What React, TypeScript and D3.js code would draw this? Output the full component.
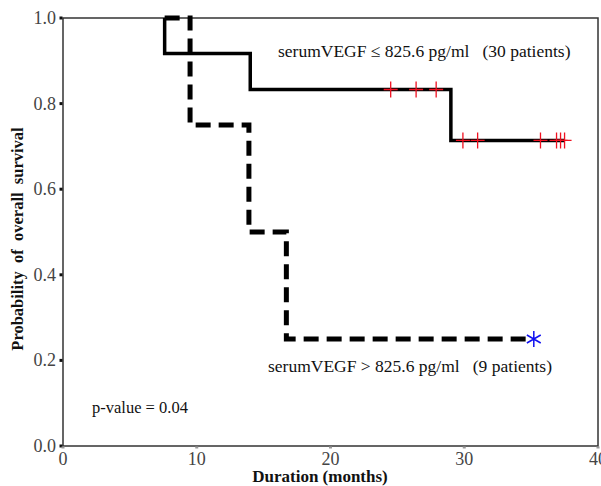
import React from "react";
import * as d3 from "d3";

const xTicks = [0, 10, 20, 30, 40];
const yTicks = [0, 0.2, 0.4, 0.6, 0.8, 1.0];

// Low VEGF group (solid)
const lowTimes = [7.6, 7.6, 14.0, 29.0, 37.5];
const lowSurv = [1.0, 0.917, 0.833, 0.714, 0.714];
const lowCensorTimes = [24.5, 26.4, 27.9, 29.9, 31.0, 35.7, 36.9, 37.2, 37.5];
const lowCensorSurv = [0.833, 0.833, 0.833, 0.714, 0.714, 0.714, 0.714, 0.714, 0.714];

// High VEGF group (dashed)
const highTimes = [7.6, 9.5, 13.9, 16.7, 35.2];
const highSurv = [1.0, 0.75, 0.5, 0.25, 0.25];
const highCensorTimes = [35.2];
const highCensorSurv = [0.25];

const W = 601, H = 486;
const m = { left: 63, right: 598, top: 18, bottom: 446 };

export default function App() {
  const x = d3.scaleLinear().domain([0, 40]).range([m.left, m.right]);
  const y = d3.scaleLinear().domain([0, 1]).range([m.bottom, m.top]);

  const stepPath = (ts: number[], ss: number[]) => {
    const pts: [number, number][] = ts.map((t, i) => [t, ss[i]]);
    const line = d3.line<[number, number]>().x(d => x(d[0])).y(d => y(d[1])).curve(d3.curveStepAfter);
    return line(pts) || "";
  };

  const font = "'Liberation Serif', 'Times New Roman', serif";
  const star = (cx: number, cy: number, r: number) => {
    const a = [0, 60, 120].map(deg => (deg * Math.PI) / 180);
    return a.map(ang => `M${cx - r * Math.sin(ang)},${cy - r * Math.cos(ang)}L${cx + r * Math.sin(ang)},${cy + r * Math.cos(ang)}`).join("");
  };

  return (
    <svg width={W} height={H} style={{ position: "absolute", left: 0, top: 0, background: "#fff" }}>
      <rect x={m.left} y={m.top} width={m.right - m.left} height={m.bottom - m.top} fill="none" stroke="#333" strokeWidth={1.5} />
      {yTicks.map(t => (
        <g key={"y" + t}>
          <rect x={m.left - 3.5} y={y(t) - 1.5} width={3} height={3} fill="#111" />
          <text x={m.left - 7} y={y(t) + 6} textAnchor="end" fontFamily={font} fontSize={18} fill="#444">{t.toFixed(1)}</text>
        </g>
      ))}
      {xTicks.map(t => (
        <g key={"x" + t}>
          <rect x={x(t) - 1.5} y={m.bottom + 0.5} width={3} height={2} fill="#999" />
          <text x={x(t)} y={m.bottom + 19} textAnchor="middle" fontFamily={font} fontSize={18} fill="#444">{t}</text>
        </g>
      ))}
      <path d={stepPath(lowTimes, lowSurv)} fill="none" stroke="#000" strokeWidth={3.5} strokeLinejoin="miter" />
      <path d={stepPath(highTimes, highSurv)} fill="none" stroke="#000" strokeWidth={5} strokeDasharray="15 8" />
      {lowCensorTimes.map((t, i) => (
        <path key={"c" + i} d={`M${x(t) - 7},${y(lowCensorSurv[i])}H${x(t) + 7}M${x(t)},${y(lowCensorSurv[i]) - 8}V${y(lowCensorSurv[i]) + 8}`} stroke="#f01020" strokeWidth={1.3} fill="none" />
      ))}
      {highCensorTimes.map((t, i) => (
        <path key={"h" + i} d={star(x(t), y(highCensorSurv[i]), 8)} stroke="#1010f0" strokeWidth={1.5} fill="none" />
      ))}
      <text x={278} y={57} fontFamily={font} fontSize={17.5} fill="#111" xmlSpace="preserve">serumVEGF ≤ 825.6 pg/ml   (30 patients)</text>
      <text x={268} y={372} fontFamily={font} fontSize={17.5} fill="#111" xmlSpace="preserve">serumVEGF &gt; 825.6 pg/ml   (9 patients)</text>
      <text x={92} y={413} fontFamily={font} fontSize={16.5} fill="#111">p-value = 0.04</text>
      <text x={320} y={482} textAnchor="middle" fontFamily={font} fontSize={17} fontWeight="bold" fill="#111">Duration (months)</text>
      <text transform={`translate(23,239) rotate(-90)`} textAnchor="middle" fontFamily={font} fontSize={16.5} fontWeight="bold" fill="#111" xmlSpace="preserve">Probability  of  overall  survival</text>
    </svg>
  );
}
